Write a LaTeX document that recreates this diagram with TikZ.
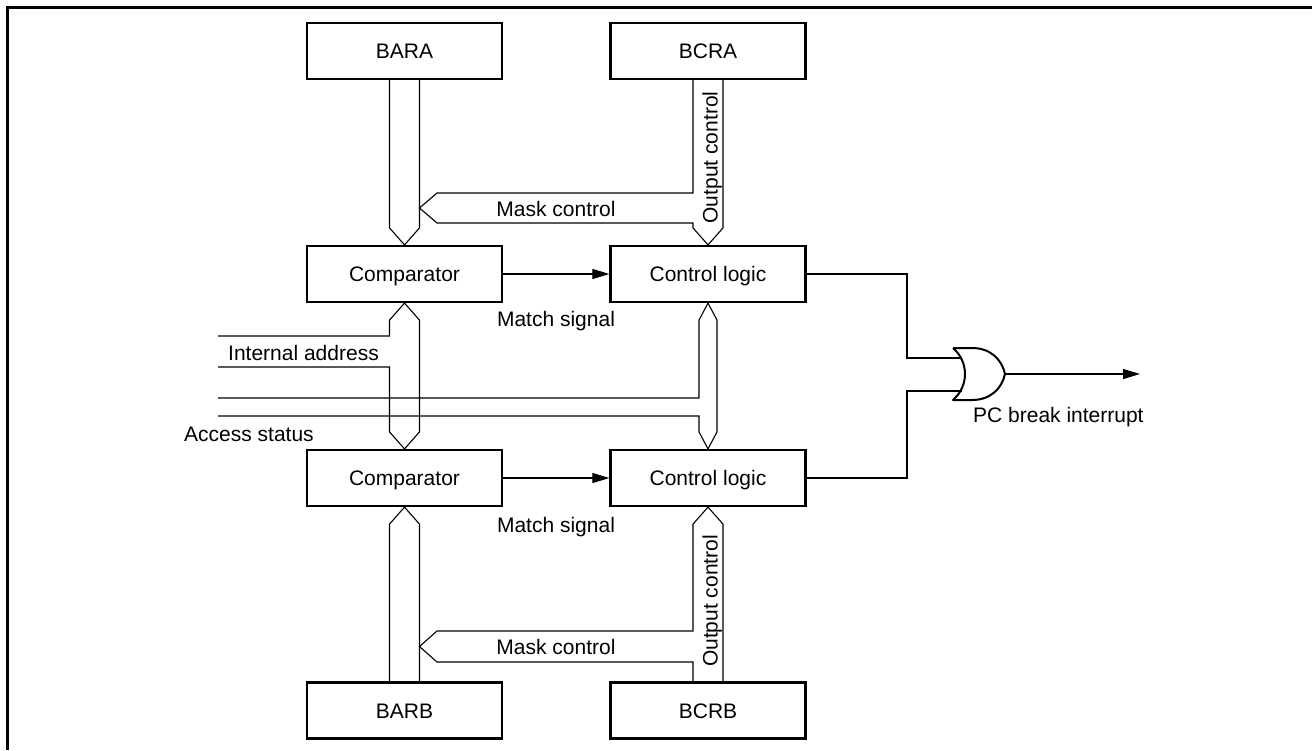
\documentclass[tikz,border=0pt]{standalone}
\usepackage{fontspec}
\setmainfont{Liberation Sans}
\usetikzlibrary{calc,arrows.meta}
\tikzset{
  blk/.style={draw, line width=2.2pt, minimum width=195pt, minimum height=56pt, inner sep=0pt,
    font=\fontsize{21}{25}\selectfont, text height=15pt, text depth=0pt},
  lbl/.style={inner sep=0pt, font=\fontsize{21}{25}\selectfont, text height=15pt, text depth=0pt},
  bus/.style={draw, line width=1.1pt, line join=miter},
  wire/.style={draw, line width=1.1pt},
  sig/.style={wire, -{Triangle[length=17pt,width=10pt]}},
  gate/.style={draw, line width=2pt, line join=round},
  frame/.style={draw, line width=3pt}
}
\begin{document}
\begin{tikzpicture}[x=1pt,y=-1pt]
\useasboundingbox (0,0) rectangle (1312,750);
\draw[frame] (7,750) -- (7,7) -- (1312,7);

% blocks
\node[blk] (bara) at (404.5,51) {BARA};
\node[blk] (bcra) at (708,51) {BCRA};
\node[blk] (cmpa) at (404.5,274) {Comparator};
\node[blk] (ctla) at (708,274) {Control logic};
\node[blk] (cmpb) at (404.5,478) {Comparator};
\node[blk] (ctlb) at (708,478) {Control logic};
\node[blk] (barb) at (404.5,710.5) {BARB};
\node[blk] (bcrb) at (708,710.5) {BCRB};

% upper buses
\draw[bus] ($(bara.south)+(-15,0)$) -- ($(cmpa.north)+(-15,-17)$) -- (cmpa.north)
  -- ($(cmpa.north)+(15,-17)$) -- ($(bara.south)+(15,0)$);
\draw[bus] ($(bcra.south)+(-15,0)$) -- (693,193) -- (437,193) -- (419.5,208) -- (437,223)
  -- (693,223) -- ($(ctla.north)+(-15,-17)$) -- (ctla.north) -- ($(ctla.north)+(15,-17)$)
  -- ($(bcra.south)+(15,0)$);

% middle buses with internal address / access status
\draw[bus] (218,336) -- (389.5,336) -- ($(cmpa.south)+(-15,17)$) -- (cmpa.south)
  -- ($(cmpa.south)+(15,17)$) -- ($(cmpb.north)+(15,-17)$) -- (cmpb.north)
  -- ($(cmpb.north)+(-15,-17)$) -- (389.5,367) -- (218,367);
\draw[bus] (218,398) -- (699,398) -- ($(ctla.south)+(-9,17)$) -- (ctla.south)
  -- ($(ctla.south)+(9,17)$) -- ($(ctlb.north)+(9,-17)$) -- (ctlb.north)
  -- ($(ctlb.north)+(-9,-17)$) -- (699,416) -- (218,416);

% lower buses
\draw[bus] ($(barb.north)+(-15,0)$) -- ($(cmpb.south)+(-15,17)$) -- (cmpb.south)
  -- ($(cmpb.south)+(15,17)$) -- ($(barb.north)+(15,0)$);
\draw[bus] ($(bcrb.north)+(15,0)$) -- ($(ctlb.south)+(15,17)$) -- (ctlb.south)
  -- ($(ctlb.south)+(-15,17)$) -- (693,631) -- (437,631) -- (419.5,646.5) -- (437,662)
  -- (693,662) -- ($(bcrb.north)+(-15,0)$);

% match signals
\draw[sig] (cmpa.east) -- (ctla.west);
\draw[sig] (cmpb.east) -- (ctlb.west);

% labels
\node[lbl] (mca) at (556,209) {Mask control};
\node[lbl, rotate=90] (oca) at (710,157.5) {Output control};
\node[lbl] (msa) at (556,319) {Match signal};
\node[lbl, anchor=west] (ia) at (228,353) {Internal address};
\node[lbl, anchor=west] (as) at (184,434) {Access status};
\node[lbl] (msb) at (556,525) {Match signal};
\node[lbl] (mcb) at (556,647) {Mask control};
\node[lbl, rotate=90] (ocb) at (710,601) {Output control};

% OR gate
\coordinate (orin1) at (962,358);
\coordinate (orin2) at (962,391);
\coordinate (orout) at (1005,374);
\coordinate (outend) at (1140,374);
\draw[gate] (953,348) -- (972,348) .. controls (991,348) and (1002,360) .. (orout)
  .. controls (1002,388) and (991,400) .. (972,400) -- (953,400)
  .. controls (969,386) and (969,362) .. (953,348);
\draw[wire] (ctla.east) -- (907,274) |- (orin1);
\draw[wire] (ctlb.east) -- (907,478) |- (orin2);
\draw[sig] (orout) -- (outend);
\node[lbl, anchor=west] (pcb) at (973,415) {PC break interrupt};
\end{tikzpicture}
\end{document}
